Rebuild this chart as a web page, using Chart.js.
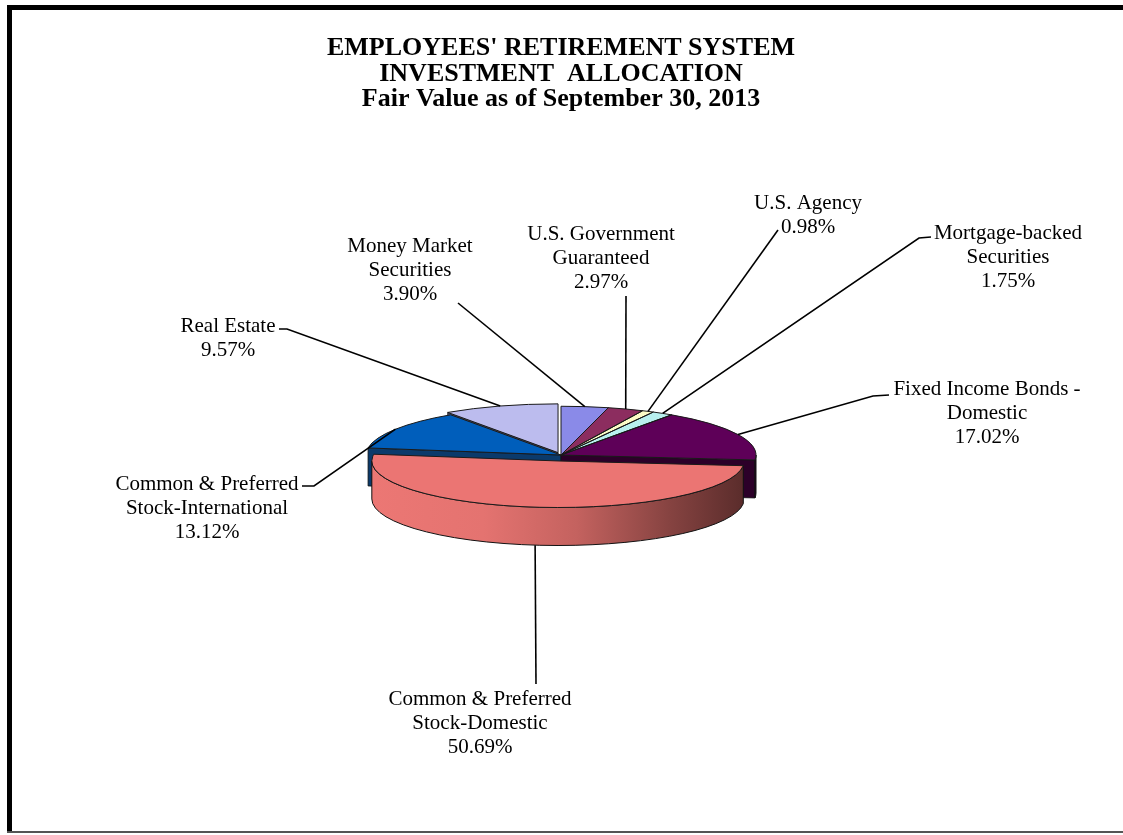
<!DOCTYPE html>
<html><head><meta charset="utf-8">
<script src="https://cdn.jsdelivr.net/npm/chart.js@4.4.1/dist/chart.umd.min.js"></script>
<style>html,body{margin:0;padding:0;background:#fff;overflow:hidden}#wrap{position:relative;width:1123px;height:835px}</style>
</head><body><div id="wrap"><canvas id="c" width="1123" height="835"></canvas></div>
<script>
// ---------- data ----------
const titleLines = ["EMPLOYEES' RETIREMENT SYSTEM", "INVESTMENT  ALLOCATION", "Fair Value as of September 30, 2013"];
const categories = ["Money Market Securities", "U.S. Government Guaranteed", "U.S. Agency", "Mortgage-backed Securities",
  "Fixed Income Bonds - Domestic", "Common & Preferred Stock-Domestic", "Common & Preferred Stock-International", "Real Estate"];
const labelLines = [["Money Market", "Securities"], ["U.S. Government", "Guaranteed"], ["U.S. Agency"], ["Mortgage-backed", "Securities"],
  ["Fixed Income Bonds -", "Domestic"], ["Common & Preferred", "Stock-Domestic"], ["Common & Preferred", "Stock-International"], ["Real Estate"]];
const percentages = [3.90, 2.97, 0.98, 1.75, 17.02, 50.69, 13.12, 9.57];

// ---------- style ----------
const topColors = ['#8a8ae8', '#8c2d5f', '#fcfbc6', '#b8f0ee', '#5e0058', '#eb7573', '#005ebb', '#bcbcee'];
const sideColors = ['#4a4a80', '#4a1632', '#8a8a6a', '#5a8886', '#2c0029', '#6a3432', '#0b3a6b', '#5a5a7a'];
const explodeDist = [0, 0, 0, 0, 0, 24, 0, 10];
const radiusScale = [1, 1, 1, 1, 1, 0.955, 1, 1];
const K = 0.25;       // vertical squash of the pie
const DEPTH = 38;     // thickness of the pie
const FONT = "'Liberation Serif','Times New Roman',serif";
const labelLayout = [
  {x: 410, y: 246, lead: [[458, 303]]},
  {x: 601, y: 234, lead: [[626, 296]]},
  {x: 808, y: 203, lead: [[778, 230]]},
  {x: 1008, y: 233, lead: [[931, 237], [919, 238]]},
  {x: 987, y: 389, lead: [[889, 395], [873, 396]]},
  {x: 480, y: 699, lead: [[536, 684]]},
  {x: 207, y: 484, lead: [[302, 486], [314, 486]]},
  {x: 228, y: 326, lead: [[279, 329], [287, 329]]}
];
const LINE_H = 24.3;

function geom(chart) {
  const meta = chart.getDatasetMeta(0);
  const ca = chart.chartArea;
  const cx = (ca.left + ca.right) / 2, cy = (ca.top + ca.bottom) / 2;
  const R = meta.controller.outerRadius;
  return {meta, cx, cy, R};
}

const pie3d = {
  id: 'pie3d',
  beforeDatasetsDraw(chart) {
    const ctx = chart.ctx;
    const {meta, cx, cy, R} = geom(chart);
    const arcs = meta.data;
    arcs.forEach((a, i) => {
      const mid = (a.startAngle + a.endAngle) / 2;
      a.x = cx + Math.cos(mid) * explodeDist[i];
      a.y = cy + Math.sin(mid) * explodeDist[i];
      a.outerRadius = R * radiusScale[i];
    });
    const P = a => [a.x, cy + (a.y - cy) * K];
    ctx.save();
    const faces = [];
    arcs.forEach((a, i) => {
      [[a.startAngle, Math.cos(a.startAngle) < -0.001], [a.endAngle, Math.cos(a.endAngle) > 0.001]].forEach(([ang, vis]) => {
        if (vis) faces.push({a, i, ang});
      });
    });
    faces.sort((f, g) => Math.sin(f.ang) - Math.sin(g.ang));
    faces.forEach(({a, i, ang}) => {
      const [px, py] = P(a);
      const r = a.outerRadius;
      const ex = px + r * Math.cos(ang), ey = py + r * K * Math.sin(ang);
      ctx.beginPath();
      ctx.moveTo(px, py); ctx.lineTo(ex, ey); ctx.lineTo(ex, ey + DEPTH); ctx.lineTo(px, py + DEPTH); ctx.closePath();
      ctx.fillStyle = sideColors[i]; ctx.fill();
      ctx.strokeStyle = '#111'; ctx.lineWidth = 0.8; ctx.stroke();
    });
    arcs.forEach((a, i) => {
      const lo = Math.max(a.startAngle, 0), hi = Math.min(a.endAngle, Math.PI);
      if (hi <= lo) return;
      const [px, py] = P(a);
      const r = a.outerRadius;
      ctx.beginPath();
      ctx.ellipse(px, py, r, r * K, 0, lo, hi);
      ctx.ellipse(px, py + DEPTH, r, r * K, 0, hi, lo, true);
      ctx.closePath();
      if (i === 5) {
        const g = ctx.createLinearGradient(px - r, 0, px + r, 0);
        g.addColorStop(0, '#ec7774'); g.addColorStop(0.3, '#e47370');
        g.addColorStop(0.55, '#c4625f'); g.addColorStop(0.8, '#864341'); g.addColorStop(1, '#5a2c2b');
        ctx.fillStyle = g;
      } else ctx.fillStyle = sideColors[i];
      ctx.fill();
      ctx.strokeStyle = '#111'; ctx.lineWidth = 1; ctx.stroke();
    });
    ctx.restore();
    ctx.save();
    ctx.translate(0, cy); ctx.scale(1, K); ctx.translate(0, -cy);
  },
  afterDatasetsDraw(chart) {
    const ctx = chart.ctx;
    ctx.restore();
    const {meta, cy} = geom(chart);
    ctx.save();
    ctx.strokeStyle = '#1a1a1a'; ctx.lineWidth = 1;
    meta.data.forEach(a => {
      const px = a.x, py = cy + (a.y - cy) * K, r = a.outerRadius;
      ctx.beginPath();
      ctx.moveTo(px, py);
      ctx.ellipse(px, py, r, r * K, 0, a.startAngle, a.endAngle);
      ctx.closePath();
      ctx.stroke();
    });
    ctx.font = '21px ' + FONT;
    ctx.fillStyle = '#000'; ctx.textAlign = 'center'; ctx.textBaseline = 'middle';
    meta.data.forEach((a, i) => {
      const L = labelLayout[i];
      const lines = labelLines[i].concat([percentages[i].toFixed(2) + '%']);
      lines.forEach((t, k) => ctx.fillText(t, L.x, L.y + k * LINE_H));
      const mid = (a.startAngle + a.endAngle) / 2;
      const px = a.x, py = cy + (a.y - cy) * K, r = a.outerRadius;
      let tx = px + r * Math.cos(mid), ty = py + r * K * Math.sin(mid);
      if (Math.sin(mid) > 0.5) ty += DEPTH;
      ctx.beginPath();
      ctx.moveTo(L.lead[0][0], L.lead[0][1]);
      for (let k = 1; k < L.lead.length; k++) ctx.lineTo(L.lead[k][0], L.lead[k][1]);
      ctx.lineTo(tx, ty);
      ctx.strokeStyle = '#000'; ctx.lineWidth = 1.6; ctx.stroke();
    });
    ctx.restore();
  },
  afterDraw(chart) {
    const ctx = chart.ctx;
    ctx.save();
    ctx.fillStyle = '#000';
    ctx.fillRect(7, 5, 1116, 5);
    ctx.fillRect(7, 5, 5, 828);
    ctx.fillStyle = '#555';
    ctx.fillRect(7, 831, 1116, 2);
    ctx.restore();
  }
};

new Chart(document.getElementById('c'), {
  type: 'pie',
  data: {
    labels: categories,
    datasets: [{data: percentages, backgroundColor: topColors, borderWidth: 0}]
  },
  options: {
    responsive: false, animation: false, devicePixelRatio: 1,
    radius: 195,
    events: [],
    layout: {padding: {top: 0, bottom: 37.5, left: 0, right: 1}},
    plugins: {
      legend: {display: false}, tooltip: {enabled: false},
      title: {display: true, text: titleLines, color: '#000',
        font: {family: FONT, size: 26, weight: 'bold', lineHeight: 25.5 / 26},
        padding: {top: 36, bottom: 0}}
    }
  },
  plugins: [pie3d]
});
</script></body></html>
